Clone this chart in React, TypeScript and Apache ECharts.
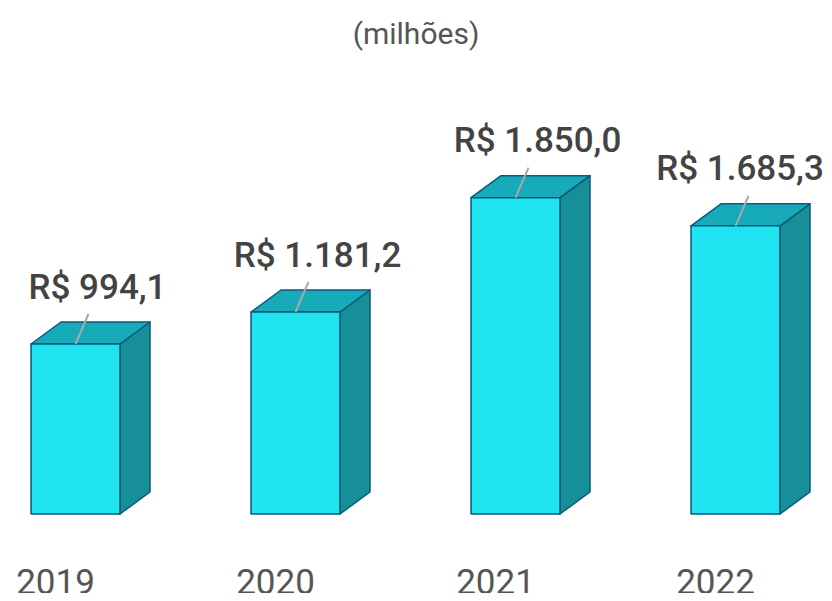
import React, { useEffect, useRef } from "react";
import * as echarts from "echarts";

const categories = ["2019", "2020", "2021", "2022"];
const values = [994.1, 1181.2, 1850.0, 1685.3];
const unitLabel = "(milhões)";

function fmtBRL(v: number): string {
  const [int, dec] = v.toFixed(1).split(".");
  const withSep = int.replace(/\B(?=(\d{3})+(?!\d))/g, ".");
  return "R$ " + withSep + "," + dec;
}

export default function App() {
  const ref = useRef<HTMLDivElement>(null);
  useEffect(() => {
    if (!ref.current) return;
    const chart = echarts.init(ref.current, undefined, { renderer: "svg" });
    const W = 89;
    const DX = 30;
    const DY = -22;
    const stroke = "#0b5a7c";
    chart.setOption({
      animation: false,
      title: {
        text: unitLabel,
        left: "center",
        top: 11,
        textStyle: { fontFamily: "Roboto", fontSize: 30, fontWeight: "normal", color: "#555555", lineHeight: 34 },
      },
      grid: { left: 75.5, right: 96.5, top: 86.5, bottom: 87 },
      xAxis: {
        type: "category",
        data: categories,
        boundaryGap: false,
        axisLine: { show: false },
        axisTick: { show: false },
        axisLabel: {
          fontFamily: "Roboto",
          fontSize: 35,
          lineHeight: 30,
          color: "#555555",
          margin: 53,
          padding: [0, 40, 0, 0],
        },
      },
      yAxis: { type: "value", min: 0, max: 2500, show: false, splitLine: { show: false } },
      series: [
        {
          type: "custom",
          data: values.map((v, i) => [i, v]),
          renderItem: (params: any, api: any) => {
            const p = api.coord([api.value(0), api.value(1)]);
            const b = api.coord([api.value(0), 0]);
            const l = p[0] - W / 2;
            const r = p[0] + W / 2;
            const t = p[1];
            const bt = b[1];
            const common = { stroke, lineWidth: 1.5, lineJoin: "round" };
            const labelX = Math.min(p[0] + 22, api.getWidth() - 92);
            return {
              type: "group",
              children: [
                {
                  type: "polygon",
                  shape: { points: [[r, t], [r + DX, t + DY], [r + DX, bt + DY], [r, bt]] },
                  style: { fill: "#168f99", ...common },
                },
                {
                  type: "polygon",
                  shape: { points: [[l, t], [l + DX, t + DY], [r + DX, t + DY], [r, t]] },
                  style: { fill: "#17abb9", ...common },
                },
                {
                  type: "polygon",
                  shape: { points: [[l, t], [r, t], [r, bt], [l, bt]] },
                  style: { fill: "#1fe3f0", ...common },
                },
                {
                  type: "line",
                  shape: { x1: p[0], y1: t, x2: p[0] + 13, y2: t - 30 },
                  style: { stroke: "#a8a8a8", lineWidth: 2 },
                },
                {
                  type: "text",
                  x: labelX,
                  y: t - 57,
                  style: {
                    text: fmtBRL(api.value(1)),
                    fontFamily: "Roboto",
                    fontSize: 35,
                    fontWeight: 500,
                    fill: "#434343",
                    align: "center",
                    verticalAlign: "middle",
                  },
                },
              ],
            };
          },
        },
      ],
    });
    return () => chart.dispose();
  }, []);
  return <div ref={ref} style={{ width: 832, height: 601, margin: -8 }} />;
}
